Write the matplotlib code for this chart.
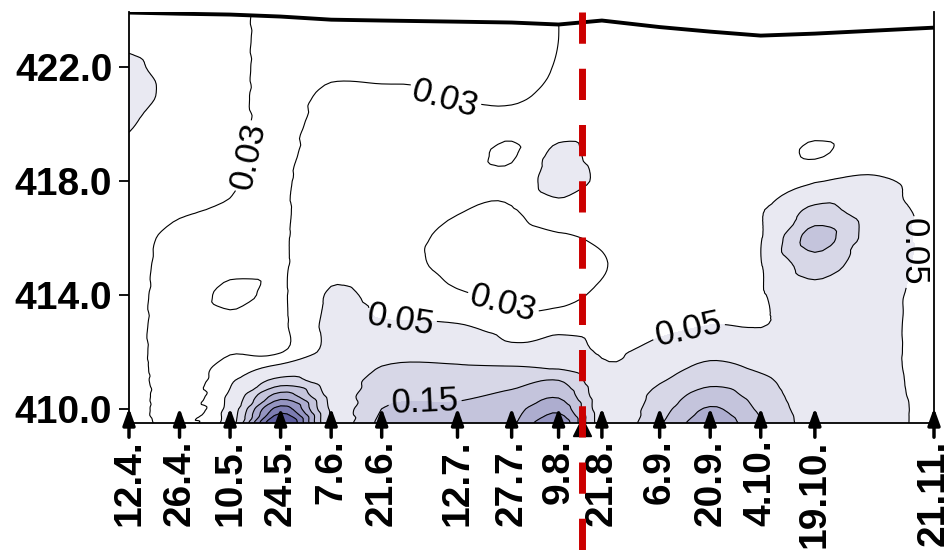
import numpy as np
import matplotlib
matplotlib.use('Agg')
import matplotlib.pyplot as plt
import matplotlib.tri as mtri

plt.rcParams['font.family'] = ['Liberation Sans', 'DejaVu Sans']

# sampling dates (day of year) and labels
days = [102, 116, 130, 144, 158, 172, 193, 208, 221, 233, 249, 263, 277, 292, 325]
day_labels = ['12.4.', '26.4.', '10.5.', '24.5.', '7.6.', '21.6.', '12.7.', '27.7.',
              '9.8.', '21.8.', '6.9.', '20.9.', '4.10.', '19.10.', '21.11.']

# water surface level on each date
surface = [423.93, 423.89, 423.86, 423.79, 423.68, 423.65, 423.61, 423.58,
           423.51, 423.65, 423.42, 423.26, 423.12, 423.19, 423.40]

# grid of estimated values: columns = dates (+ one extra column at day 309)
grid_days = [102, 116, 130, 144, 158, 172, 193, 208, 221, 233, 249, 263, 277, 292, 309, 325]
depths = [409.5, 410, 410.5, 411, 411.5, 412, 413, 414, 415, 416, 417, 418,
          419, 420, 421, 422, 423, 424]

c_12_4 = [0.040, 0.040, 0.040, 0.038, 0.037, 0.037, 0.037, 0.037, 0.037, 0.037, 0.038, 0.040,
          0.045, 0.052, 0.062, 0.055, 0.045, 0.042]
c_26_4 = [0.027, 0.023, 0.022, 0.022, 0.022, 0.021, 0.021, 0.022, 0.023, 0.025, 0.032, 0.036,
          0.038, 0.039, 0.041, 0.040, 0.040, 0.040]
c_10_5 = [0.075, 0.065, 0.055, 0.045, 0.036, 0.029, 0.026, 0.034, 0.026, 0.025, 0.029, 0.031,
          0.033, 0.034, 0.034, 0.034, 0.034, 0.034]
c_24_5 = [0.420, 0.320, 0.215, 0.115, 0.055, 0.029, 0.027, 0.028, 0.028, 0.028, 0.028, 0.028,
          0.027, 0.026, 0.025, 0.025, 0.025, 0.025]
c_7_6 = [0.095, 0.092, 0.085, 0.072, 0.062, 0.057, 0.055, 0.052, 0.045, 0.042, 0.040, 0.040,
         0.038, 0.036, 0.033, 0.027, 0.025, 0.025]
c_21_6 = [0.160, 0.150, 0.135, 0.120, 0.100, 0.080, 0.052, 0.045, 0.038, 0.038, 0.040, 0.040,
          0.040, 0.038, 0.033, 0.026, 0.024, 0.024]
c_12_7 = [0.175, 0.160, 0.140, 0.120, 0.103, 0.080, 0.050, 0.032, 0.026, 0.026, 0.031, 0.037,
          0.038, 0.036, 0.029, 0.026, 0.025, 0.025]
c_27_7 = [0.195, 0.180, 0.160, 0.130, 0.100, 0.062, 0.038, 0.026, 0.023, 0.023, 0.029, 0.034,
          0.028, 0.034, 0.028, 0.026, 0.026, 0.026]
c_9_8 = [0.290, 0.235, 0.190, 0.150, 0.090, 0.070, 0.040, 0.025, 0.024, 0.028, 0.042, 0.060,
         0.055, 0.040, 0.034, 0.031, 0.030, 0.030]
c_21_8 = [0.075, 0.072, 0.070, 0.063, 0.055, 0.047, 0.040, 0.033, 0.029, 0.032, 0.040, 0.046,
          0.042, 0.040, 0.040, 0.040, 0.040, 0.040]
c_6_9 = [0.145, 0.130, 0.115, 0.095, 0.075, 0.062, 0.042, 0.040, 0.040, 0.040, 0.040, 0.040,
         0.040, 0.040, 0.040, 0.040, 0.038, 0.038]
c_20_9 = [0.235, 0.205, 0.170, 0.135, 0.110, 0.085, 0.049, 0.042, 0.041, 0.041, 0.041, 0.040,
          0.040, 0.040, 0.040, 0.040, 0.040, 0.040]
c_4_10 = [0.155, 0.140, 0.125, 0.110, 0.090, 0.070, 0.048, 0.047, 0.048, 0.048, 0.047, 0.042,
          0.040, 0.040, 0.040, 0.040, 0.040, 0.040]
c_19_10 = [0.075, 0.073, 0.070, 0.068, 0.066, 0.065, 0.065, 0.080, 0.120, 0.170, 0.110, 0.048,
           0.028, 0.036, 0.040, 0.040, 0.040, 0.040]
c_day309 = [0.060, 0.060, 0.058, 0.057, 0.056, 0.056, 0.056, 0.058, 0.065, 0.070, 0.065, 0.053,
            0.042, 0.040, 0.040, 0.040, 0.040, 0.040]
c_21_11 = [0.042, 0.042, 0.042, 0.042, 0.042, 0.042, 0.042, 0.042, 0.042, 0.042, 0.042, 0.042,
           0.042, 0.042, 0.042, 0.042, 0.042, 0.042]

fill_levels = [-1, 0.05, 0.10, 0.15, 0.20, 0.25, 0.30, 0.35, 1]
fill_colors = ['#ffffff', '#e9e9f2', '#d7d7e7', '#c4c4dc', '#adadcf', '#9595c1',
               '#7c7cb2', '#5f5fa0']
plain_levels = [0.10, 0.20, 0.25, 0.30, 0.35]

Z = np.column_stack([c_12_4, c_26_4, c_10_5, c_24_5, c_7_6, c_21_6, c_12_7, c_27_7,
                     c_9_8, c_21_8, c_6_9, c_20_9, c_4_10, c_19_10, c_day309, c_21_11])
X, Y = np.meshgrid(grid_days, depths)

# triangulate the rectangular grid, smooth with a cubic interpolator
ny, nx = Z.shape
idx = np.arange(ny * nx).reshape(ny, nx)
a = idx[:-1, :-1].ravel()
b = idx[:-1, 1:].ravel()
c = idx[1:, 1:].ravel()
d = idx[1:, :-1].ravel()
triangles = np.concatenate([np.column_stack([a, b, c]), np.column_stack([a, c, d])])
tri = mtri.Triangulation(X.ravel(), Y.ravel(), triangles)
interp = mtri.CubicTriInterpolator(tri, Z.ravel(), kind='geom')
tri_f, z_f = mtri.UniformTriRefiner(tri).refine_field(Z.ravel(), triinterpolator=interp,
                                                      subdiv=3)

fig = plt.figure(figsize=(9.51, 5.53), dpi=100)
ax = fig.add_axes([129 / 951, 1 - 423 / 553, 805 / 951, 411 / 553])

ax.tricontourf(tri_f, z_f, levels=fill_levels, colors=fill_colors)
ax.tricontour(tri_f, z_f, levels=plain_levels, colors='k', linewidths=0.8)

# labelled contours with label positions
label_pos = {0.03: [(138.8, 418.7), (189.5, 420.9), (206.2, 413.8)],
             0.05: [(177.1, 413.1), (257.4, 412.6), (317.0, 415.6)],
             0.15: [(184.0, 410.3)]}
for lev, pos in label_pos.items():
    cs = ax.tricontour(tri_f, z_f, levels=[lev], colors='k', linewidths=0.8)
    txts = ax.clabel(cs, manual=pos, fmt='%.2f', fontsize=25, inline=True, inline_spacing=3)
    if lev == 0.05:
        txts[-1].set_rotation(270)

ymax = 423.95
ax.fill_between(days, surface, ymax + 1, color='white', zorder=3)
ax.plot(days, surface, color='k', lw=2.8, zorder=4, solid_capstyle='butt')

ax.set_xlim(102, 325)
ax.set_ylim(409.5, ymax)

ax.spines['top'].set_visible(False)
for s in ['left', 'right', 'bottom']:
    ax.spines[s].set_linewidth(1.3)
    ax.spines[s].set_zorder(5)

ax.set_yticks([410, 414, 418, 422])
ax.set_yticklabels(['410.0', '414.0', '418.0', '422.0'], fontsize=28, fontweight='bold')
ax.tick_params(axis='y', length=7, width=1.3, pad=5)
ax.set_xticks(days)
ax.set_xticklabels(day_labels, rotation=90, fontsize=28, fontweight='bold')
ax.tick_params(axis='x', length=0, pad=12)

# sampling arrows
for dd in days:
    ax.annotate('', xy=(dd, 410.03), xytext=(dd, 409.0),
                arrowprops=dict(arrowstyle='-|>,head_length=0.5,head_width=0.18',
                                color='k', lw=2.5, shrinkA=0, shrinkB=0, mutation_scale=20),
                annotation_clip=False, zorder=6)

# marker and red dashed separator
ax.plot([227.6], [409.37], marker='^', color='k', markersize=13, clip_on=False, zorder=7)
ax.plot([227.6, 227.6], [ymax, 404.8], color='#cc0000', lw=5, dashes=(4.5, 3.6),
        clip_on=False, zorder=8)

fig.savefig('out.png', dpi=100)
